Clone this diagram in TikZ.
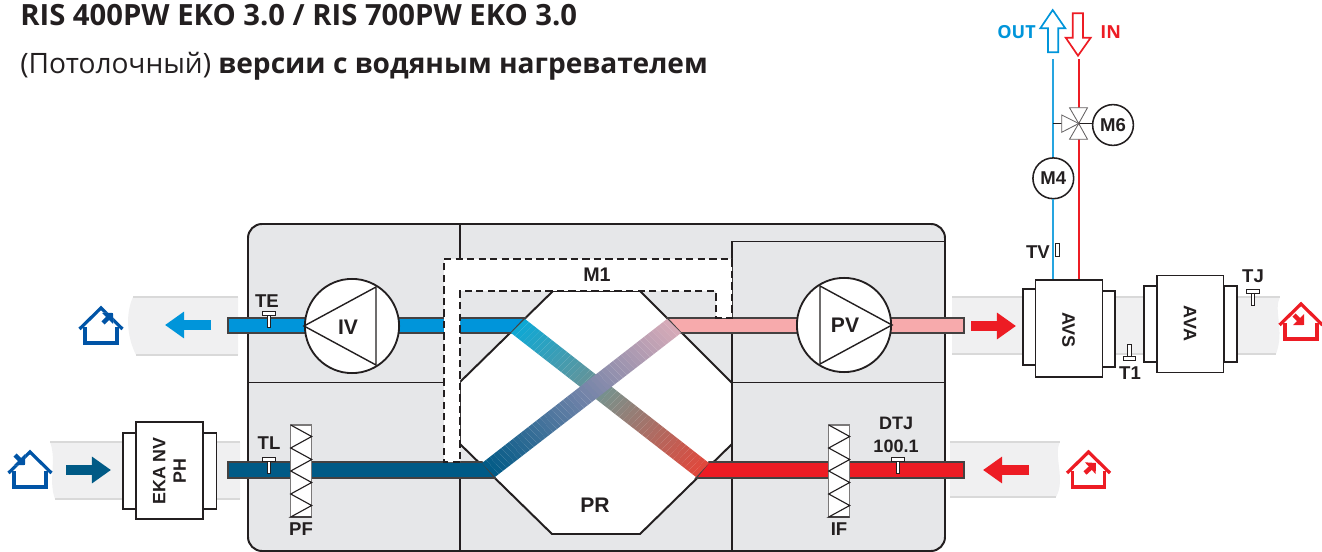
\documentclass[tikz,border=0pt]{standalone}
\usepackage{fontspec}
\setmainfont{Liberation Sans}
\newfontfamily\titlefont{Open Sans}
\usetikzlibrary{arrows.meta,calc}
\definecolor{ink}{HTML}{231F20}
\definecolor{casing}{HTML}{E6E7E9}
\definecolor{outer}{HTML}{F0F0F1}
\definecolor{outerline}{HTML}{D9D9D9}
\definecolor{exhaust}{HTML}{0095DA}
\definecolor{fresh}{HTML}{005A86}
\definecolor{supply}{HTML}{F7AAAC}
\definecolor{extract}{HTML}{ED1C24}
\definecolor{homeblue}{HTML}{0054A6}
\definecolor{mixa}{HTML}{7E8E88}
\definecolor{mixb}{HTML}{6F82A8}
\definecolor{coldend}{HTML}{0CA9D6}
\definecolor{hotend}{HTML}{E2473A}
\definecolor{paleend}{HTML}{D8ABB8}
\tikzset{
  scheme/.style={line join=miter,text=ink,font=\bfseries\fontsize{13.2}{14.7}\selectfont},
  wall/.style={draw=ink,line width=1.4pt},
  casewall/.style={wall,fill=casing},
  duct/.style={draw=ink!85,line width=1.1pt},
  tag/.style={inner sep=0pt},
  fan/.style={circle,draw=ink,fill=white,line width=1.3pt,minimum size=67pt,inner sep=0pt},
  motor/.style={circle,draw=ink,fill=white,line width=1.1pt,minimum size=29pt,inner sep=0pt},
  body/.style={draw=ink,fill=white,line width=1.1pt,minimum width=47.4pt,minimum height=69pt,inner sep=0pt},
  collar/.style={draw=ink,fill=white,line width=1.1pt,minimum width=9.2pt,minimum height=54.4pt,inner sep=0pt},
  m1wall/.style={draw=ink,fill=white,line width=1.4pt,dash pattern=on 5.2pt off 3pt},
  flowarrow/.style={draw=#1,line width=7.1pt,-{Triangle[length=13.6pt,width=18.2pt]}},
  pipe/.style={draw=#1,line width=1.3pt},
  hollow/.style={draw=#1,fill=white,line width=1.2pt},
  valve/.style={draw=ink!70,fill=white,line width=.6pt},
  sensor/.pic={
    \path[draw=ink,fill=white,line width=.7pt] (-1.9,0) rectangle (1.9,16);
    \path[draw=ink,fill=white,line width=.7pt] (-6.3,0) rectangle (6.3,3.8);
  },
  filterbox/.pic={
    \path[draw=ink!60,fill=white,line width=.8pt] (0,0) rectangle (21,92);
    \draw[ink,line width=.8pt] (0,0) -- (21,11.5) -- (0,23) -- (21,34.5) -- (0,46)
      -- (21,57.5) -- (0,69) -- (21,80.5) -- (0,92) -- (21,92);
  },
  home/.pic={
    \draw[draw=#1,line width=2.3pt,miter limit=10] (-21.5,21) -- (0,0) -- (21.5,21);
    \draw[draw=#1,line width=2.3pt] (-16,19) -- (-16,35) -- (16,35) -- (16,19);
  },
  nub/.style={draw=#1,line width=3.2pt,-{Triangle[length=5.5pt,width=11pt]}},
  nubhalo/.style={draw=white,line width=5pt,-{Triangle[length=7.5pt,width=15pt]}},
}
% one air band through the exchanger, from edge (a)-(b) to edge (c)-(d)
\newcommand{\bandhalf}[6]{%
  \foreach \i in {0,...,23} {
    \pgfmathsetmacro\ta{#5+\i/48}
    \pgfmathsetmacro\tb{#5+(\i+1)/48}
    \pgfmathsetmacro\pc{100*(\i+.5)/24}
    \colorlet{stripe}{#6!\pc!#4}
    \path[fill=stripe] ($(#1)!\ta!(#3)$) -- ($(#1)!\tb!(#3)$) -- ($(#2)!\tb!(#3b)$) -- ($(#2)!\ta!(#3b)$) -- cycle;
  }}
\begin{document}
\begin{tikzpicture}[scheme,x=.25mm,y=-.25mm]
  \path[use as bounding box] (0,0) rectangle (1322,552);

  % title lines
  \node[tag,anchor=base west,font=\titlefont\bfseries\fontsize{20.8}{22}\selectfont] (title) at (20,26)
    {RIS 400PW EKO 3.0 / RIS 700PW EKO 3.0};
  \node[tag,anchor=base west,font=\titlefont\fontsize{20}{22}\selectfont] (subtitle) at (20,74)
    {(Потолочный) \textbf{версии с водяным нагревателем}};

  % outside air ducts
  \path[fill=outer] (238,297) -- (133,297) .. controls (126,312) and (126,335) .. (136,355) -- (238,355) -- cycle;
  \draw[outerline,line width=.9pt] (133,297) -- (238,297) (136,355) -- (238,355);
  \path[fill=outer] (240,442) -- (50,442) .. controls (57,460) and (48,480) .. (55,499) -- (240,499) -- cycle;
  \draw[outerline,line width=.9pt] (50,442) -- (240,442) (55,499) -- (240,499);
  \path[fill=outer] (952,297) -- (1280,297) .. controls (1273,310) and (1285,330) .. (1276,354) -- (952,354) -- cycle;
  \draw[outerline,line width=.9pt] (952,297) -- (1280,297) (952,354) -- (1276,354);
  \path[fill=outer] (950,442) -- (1060,442) .. controls (1053,455) and (1066,480) .. (1056,497) -- (950,497) -- cycle;
  \draw[outerline,line width=.9pt] (950,442) -- (1060,442) (950,497) -- (1056,497);

  % casing with its chambers
  \path[casewall,rounded corners=10pt] (248,224) rectangle (945,551);
  \draw[wall] (460,224) -- (460,259);
  \draw[wall] (460,478) -- (460,551);
  \draw[wall] (248,382.5) -- (444,382.5);
  \draw[wall] (945,241.5) -- (732,241.5) -- (732,551);
  \draw[wall] (732,382.5) -- (945,382.5);

  % heat exchanger
  \path[wall,fill=white] (553,291) -- (640,291) -- (732,383) -- (732,444) -- (640,534)
    -- (552,534) -- (460,444) -- (460,382) -- cycle;
  \node[tag,font=\bfseries\fontsize{15}{15}\selectfont] (pr) at (595,505) {PR};

  % air channels
  \path[duct,fill=exhaust] (525,318) -- (228,318) -- (228,333) -- (511,333) -- cycle;
  \path[duct,fill=supply] (667,318) -- (964,318) -- (964,333) -- (681,333) -- cycle;
  \path[duct,fill=fresh] (482,462) -- (228,462) -- (228,478) -- (495,478) -- cycle;
  \path[duct,fill=extract] (709,462) -- (964,462) -- (964,478) -- (696,478) -- cycle;
  \coordinate (hota) at (525,319);   \coordinate (hotb) at (511,333);
  \coordinate (hotz) at (709,463);   \coordinate (hotzb) at (696,477);
  \coordinate (cola) at (482,463);   \coordinate (colb) at (495,477);
  \coordinate (colz) at (667,319);   \coordinate (colzb) at (681,333);
  \bandhalf{hota}{hotb}{hotz}{coldend}{0}{mixa}
  \bandhalf{hota}{hotb}{hotz}{mixa}{.5}{hotend}
  \bandhalf{cola}{colb}{colz}{fresh}{0}{mixb}
  \bandhalf{cola}{colb}{colz}{mixb}{.5}{paleend}

  % bypass
  \path[m1wall] (460,462) -- (444,462) -- (444,259) -- (732,259) -- (732,318) -- (716,318)
    -- (716,291) -- (460,291) -- cycle;
  \node[tag,font=\bfseries\fontsize{14}{14}\selectfont] (m1) at (597,275) {M1};

  % fans
  \node[fan] (iv) at (352,326) {};
  \draw[ink,line width=1pt] (iv.west) -- (376,287) -- (376,365) -- cycle;
  \node[tag,font=\bfseries\fontsize{15}{15}\selectfont] (ivname) at (348,327) {IV};
  \node[fan] (pv) at (844,325) {};
  \draw[ink,line width=1pt] (pv.east) -- (820,286) -- (820,364) -- cycle;
  \node[tag,font=\bfseries\fontsize{15}{15}\selectfont] (pvname) at (845,325) {PV};

  % filters
  \pic at (290.7,425) {filterbox};
  \pic at (828.7,425) {filterbox};
  \node[tag] (pf) at (301,529) {PF};
  \node[tag] (if) at (839,529) {IF};

  % sensors
  \pic at (269,311.5) {sensor};
  \pic at (269,457.5) {sensor};
  \pic at (898,457.5) {sensor};
  \pic at (1253,289.5) {sensor};
  \pic[yscale=-1] at (1129.5,360.5) {sensor};
  \path[draw=ink,fill=white,line width=.7pt] (1055,243) rectangle (1059.3,256);
  \node[tag] (te) at (267,301.5) {TE};
  \node[tag] (tl) at (269,443) {TL};
  \node[tag,font=\bfseries\fontsize{12.8}{16}\selectfont,anchor=base] (dtj) at (896,429.5) {DTJ};
  \node[tag,font=\bfseries\fontsize{12.8}{16}\selectfont,anchor=base] (dtjval) at (896,452.5) {100.1};
  \node[tag] (tv) at (1038,251.7) {TV};
  \node[tag] (tj) at (1253,276) {TJ};
  \node[tag] (t1) at (1130,373) {T1};

  % add-on units in the ducts
  \node[collar] (ekaleft) at (129.5,471) {};
  \node[collar] (ekaright) at (210,471) {};
  \node[body] (eka) at (169.5,470.5) {};
  \node[tag,rotate=90,align=center,font=\bfseries\fontsize{12.7}{14.7}\selectfont] (ekaname) at (169.5,471) {EKA NV\\PH};
  \node[collar] (avsleft) at (1029.3,327) {};
  \node[collar] (avsright) at (1108.5,329) {};
  \node[body] (avs) at (1069,328.5) {};
  \node[tag,rotate=-90,font=\bfseries\fontsize{12.8}{14.7}\selectfont] (avsname) at (1068.5,330) {AVS};
  \node[collar] (avaleft) at (1150.5,324) {};
  \node[collar] (avaright) at (1230.3,324) {};
  \node[body] (ava) at (1190.3,324) {};
  \node[tag,rotate=-90,font=\bfseries\fontsize{12.8}{14.7}\selectfont] (avaname) at (1190,323.5) {AVA};

  % air direction
  \coordinate (ea0) at (211,325); \coordinate (ea1) at (165,325);
  \coordinate (oa0) at (66,470);  \coordinate (oa1) at (111,470);
  \coordinate (sa0) at (971,326); \coordinate (sa1) at (1016,326);
  \coordinate (ra0) at (1029,470); \coordinate (ra1) at (983,470);
  \draw[flowarrow=exhaust] (ea0) -- (ea1);
  \draw[flowarrow=fresh] (oa0) -- (oa1);
  \draw[flowarrow=extract] (sa0) -- (sa1);
  \draw[flowarrow=extract] (ra0) -- (ra1);

  % houses
  \pic at (101,308) {home=homeblue};
  \pic at (30,452) {home=homeblue};
  \pic at (1301,304) {home=extract};
  \pic at (1088.5,452) {home=extract};
  \coordinate (h1a) at (103,323); \coordinate (h1b) at (113,313);
  \coordinate (h2a) at (15,455);  \coordinate (h2b) at (25,465);
  \coordinate (h3a) at (1294,315); \coordinate (h3b) at (1304,325);
  \coordinate (h4a) at (1085,473); \coordinate (h4b) at (1096,463);
  \draw[nubhalo] (h1a) -- (h1b);
  \draw[nubhalo] (h2a) -- (h2b);
  \draw[nub=homeblue] (h1a) -- (h1b);
  \draw[nub=homeblue] (h2a) -- (h2b);
  \draw[nub=extract] (h3a) -- (h3b);
  \draw[nub=extract] (h4a) -- (h4b);

  % water circuit
  \node[motor] (m4) at (1053.3,178.3) {M4};
  \node[motor] (m6) at (1113,125) {M6};
  \coordinate (valvec) at (1078.7,123.5);
  \coordinate (outend) at (1053.3,59);
  \coordinate (inend) at (1078.7,59);
  \draw[pipe=exhaust!85!white] (outend) -- (m4);
  \draw[pipe=exhaust!85!white] (m4) -- (m4 |- avs.north);
  \draw[pipe=extract] (inend) -- (valvec);
  \draw[pipe=extract] (valvec) -- (valvec |- avs.north);
  \draw[ink,line width=1.1pt] (outend |- valvec) -- (valvec);
  \draw[ink,line width=1.1pt] (valvec) -- (m6.west |- valvec);
  \path[valve] (valvec) -- (1069.5,107.7) -- (1087.5,107.7) -- cycle;
  \path[valve] (valvec) -- (1069.5,139.3) -- (1087.5,139.3) -- cycle;
  \path[valve] (valvec) -- (1061.7,115) -- (1061.7,132.3) -- cycle;

  % pipe arrows and their words
  \path[hollow=exhaust] (1052.7,10) -- (1065.3,28.3) -- (1058.3,28.3) -- (1058.3,52.3)
    -- (1048,52.3) -- (1048,28.3) -- (1040.3,28.3) -- cycle;
  \path[hollow=extract] (1078,55.7) -- (1090.7,37.7) -- (1083,37.7) -- (1083,13.3)
    -- (1072.7,13.3) -- (1072.7,37.7) -- (1065.7,37.7) -- cycle;
  \node[tag,anchor=base east,text=exhaust,font=\titlefont\bfseries\fontsize{12.8}{13}\selectfont] (outname) at (1036,39) {OUT};
  \node[tag,anchor=base west,text=extract,font=\titlefont\bfseries\fontsize{12.8}{13}\selectfont] (inname) at (1100,39) {IN};
\end{tikzpicture}
\end{document}
